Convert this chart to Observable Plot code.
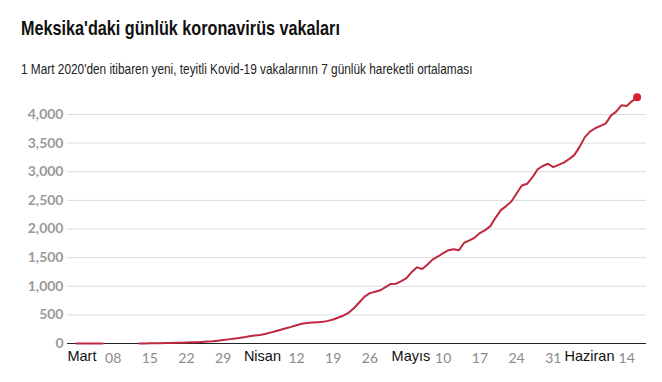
<!DOCTYPE html>
<html>
<head>
<meta charset="utf-8">
<script src="https://cdn.jsdelivr.net/npm/d3@7"></script>
<script src="https://cdn.jsdelivr.net/npm/@observablehq/plot@0.6"></script>
<style>
  html, body { margin: 0; padding: 0; background: #fff; }
  body { width: 662px; height: 382px; position: relative; overflow: hidden; }
  #title { position: absolute; left: 21px; top: 18px; font-family: "Liberation Sans", sans-serif; font-weight: 700; font-size: 20.5px; line-height: 20px; color: #111; white-space: nowrap; transform: scaleX(0.79); transform-origin: 0 0; }
  #subtitle { position: absolute; left: 21px; top: 62px; font-family: "Liberation Sans", sans-serif; font-size: 14.5px; line-height: 14.5px; color: #222; white-space: nowrap; transform: scaleX(0.816); transform-origin: 0 0; }
  #chart { position: absolute; left: 0; top: 85px; }
</style>
</head>
<body>
<div id="title">Meksika'daki günlük koronavirüs vakaları</div>
<div id="subtitle">1 Mart 2020'den itibaren yeni, teyitli Kovid-19 vakalarının 7 günlük hareketli ortalaması</div>
<div id="chart"></div>
<script>
// 7-day moving average of new confirmed cases, one value per day from 1 March 2020 (null = no data)
const startDate = "2020-03-01";
const dailyAverage = [
  0, 0, 0, 0, 0, 0,
  null, null, null, null, null, null,
  1, 2, 3, 4, 6, 8, 10, 12, 15, 17, 20, 23, 27, 33, 40, 50, 60, 72, 85,
  95, 110, 125, 140, 150, 165, 190, 215, 240, 265, 290, 320, 345, 360, 368,
  372, 378, 395, 420, 455, 490, 540, 620, 720, 820, 880, 905, 930, 985, 1040,
  1045, 1090, 1140, 1250, 1330, 1300, 1380, 1470, 1520, 1580, 1630, 1645, 1630, 1760, 1800,
  1850, 1930, 1980, 2050, 2200, 2330, 2400, 2480, 2620, 2760, 2790, 2900, 3040, 3100, 3140,
  3080, 3120, 3160, 3220, 3290, 3430, 3600, 3700, 3760, 3800, 3840, 3980, 4050, 4160, 4150,
  4230, 4300
];
const yTicks = [0, 500, 1000, 1500, 2000, 2500, 3000, 3500, 4000];
const dayTicks = ["2020-03-08", "2020-03-15", "2020-03-22", "2020-03-29", "2020-04-12", "2020-04-19", "2020-04-26", "2020-05-10", "2020-05-17", "2020-05-24", "2020-05-31", "2020-06-14"];
const monthTicks = ["2020-03-01", "2020-04-01", "2020-05-01", "2020-06-01"];
const monthNames = ["Mart", "Nisan", "Mayıs", "Haziran"];
const xDomain = ["2020-02-28T07:00Z", "2020-06-17T19:00Z"];

const parse = d3.utcParse("%Y-%m-%d");
const start = parse(startDate);
const data = dailyAverage.map((v, i) => ({ date: d3.utcDay.offset(start, i), value: v }));
const last = data.filter(d => d.value != null).slice(-1);
const dayDates = dayTicks.map(parse);
const monthDates = monthTicks.map(parse);

// label nudges (style only) so month names clear the day numbers
const monthNudge = [-9, 5, -4.5, 6];
const monthMarks = monthDates.map((d, i) =>
  Plot.text([d], { x: v => v, text: () => monthNames[i], frameAnchor: "bottom", lineAnchor: "bottom", dy: 17, textAnchor: "start", dx: monthNudge[i], fill: "#111", fontSize: 14.5, fontFamily: "Liberation Sans" })
);

const chart = Plot.plot({
  width: 662,
  height: 297,
  marginLeft: 67,
  marginRight: 16,
  marginTop: 29,
  marginBottom: 39,
  style: { background: "#fff", overflow: "visible" },
  x: { type: "utc", domain: xDomain.map(d => new Date(d)), axis: null },
  y: { domain: [0, 4000], axis: null },
  marks: [
    Plot.gridY(yTicks, { stroke: "#dcdcdc", strokeOpacity: 1 }),
    Plot.axisY(yTicks, { tickSize: 0, tickPadding: 4, tickFormat: d3.format(","), color: "#9a9a9a", fontSize: 14, fontWeight: 700, fontFamily: "Lato", label: null }),
    Plot.ruleY([0], { stroke: "#222", strokeWidth: 1 }),
    Plot.text(dayDates, { x: d => d, text: d3.utcFormat("%d"), frameAnchor: "bottom", lineAnchor: "bottom", dy: 19.5, fill: "#8a8a8a", fontSize: 14, fontFamily: "Lato" }),
    ...monthMarks,
    Plot.lineY(data, { x: "date", y: "value", stroke: "#c0283f", strokeWidth: 2 }),
    Plot.dot(last, { x: "date", y: "value", r: 4, fill: "#d9202c", stroke: "none" })
  ]
});
document.getElementById("chart").appendChild(chart);
</script>
</body>
</html>
